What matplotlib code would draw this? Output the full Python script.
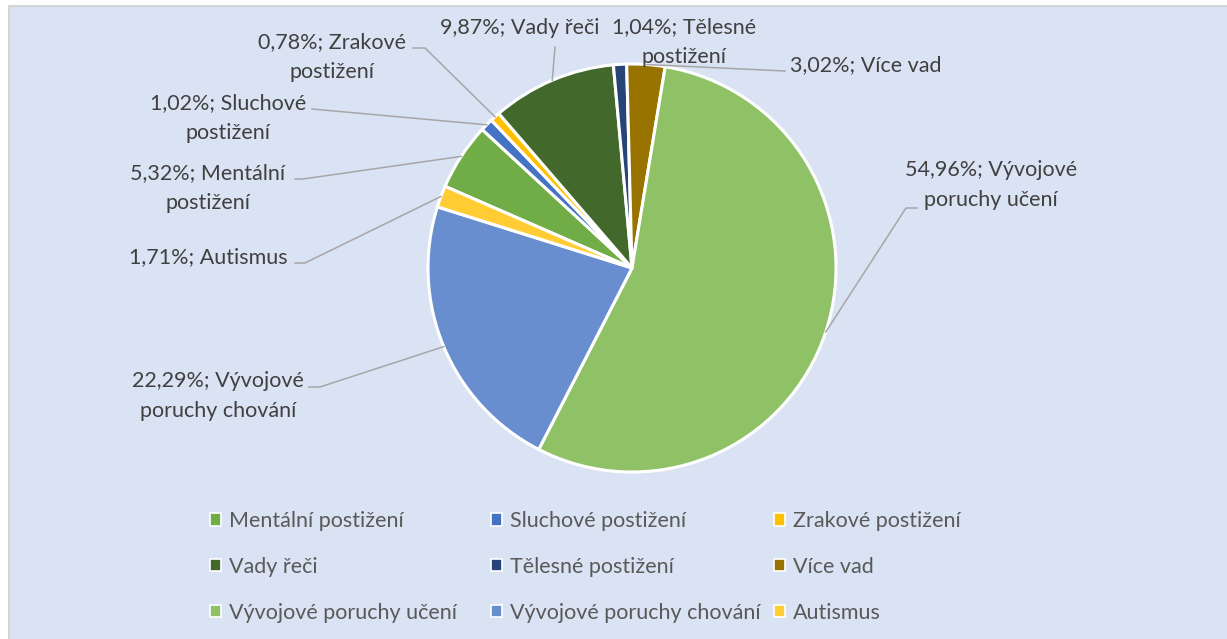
import numpy as np
import matplotlib
matplotlib.use("Agg")
import matplotlib.pyplot as plt
from matplotlib.patches import Rectangle, Patch

plt.rcParams['font.family'] = ['Lato', 'DejaVu Sans']

# data
categories = ["Mentální postižení", "Sluchové postižení", "Zrakové postižení",
              "Vady řeči", "Tělesné postižení", "Více vad",
              "Vývojové poruchy učení", "Vývojové poruchy chování", "Autismus"]
shares = [5.32, 1.02, 0.78, 9.87, 1.04, 3.02, 54.96, 22.29, 1.71]
colors = ["#70AD47", "#4472C4", "#FFC000", "#43682B", "#264478", "#997300",
          "#8FC166", "#698ED0", "#FFCD33"]
# how the data labels wrap in the original
label_names = ["Mentální\npostižení", "Sluchové\npostižení", "Zrakové\npostižení",
               "Vady řeči", "Tělesné\npostižení", "Více vad",
               "Vývojové\nporuchy učení", "Vývojové\nporuchy chování", "Autismus"]

W, H = 1227, 639
TXT = "#404040"
FS = 15.5

# label centres and leader elbows, in pixels from top-left
label_pos = [(208, 188), (228, 118), (332, 57), (520, 28), (684, 42),
             (866, 65), (991, 185), (218, 396), (208, 257)]
leaders = {0: [(295, 179), (303, 179)], 1: [(312, 109)],
           2: [(413, 48), (425, 48)], 3: [(555, 47)], 5: [(785, 71)],
           6: [(917, 208), (906, 208)], 7: [(309, 387), (320, 387)],
           8: [(295, 263), (305, 263)]}

fig = plt.figure(figsize=(W / 100, H / 100), dpi=100)
fig.patch.set_facecolor("white")
ax = fig.add_axes([0, 0, 1, 1])

ax.add_patch(Rectangle((8.5, -5), W, H - 0.5, facecolor="#DAE3F3",
                       edgecolor="#D0D0D0", linewidth=1.2, zorder=0))

cx, cy, R = 632, H - 268, 204
wedges, _ = ax.pie(shares, colors=colors, startangle=156.4, counterclock=False,
                   center=(cx, cy), radius=R,
                   wedgeprops=dict(edgecolor="white", linewidth=2.2))
ax.set_xlim(0, W)
ax.set_ylim(0, H)
ax.axis("off")

for i, (w, v) in enumerate(zip(wedges, shares)):
    txt = f"{v:.2f}".replace(".", ",") + "%; " + label_names[i]
    x, y = label_pos[i]
    ax.text(x, H - y, txt, ha="center", va="center",
            multialignment="center", fontsize=FS, color=TXT, linespacing=1.6)
    if i in leaders:
        mid = np.deg2rad((w.theta1 + w.theta2) / 2)
        ex, ey = cx + R * np.cos(mid), cy + R * np.sin(mid)
        pts = [(px, H - py) for px, py in leaders[i]] + [(ex, ey)]
        xs, ys = zip(*pts)
        ax.plot(xs, ys, color="#A6A6A6", lw=1.1, zorder=3)

# legend, row-wise like Excel, three fixed columns
col_x = [210, 491, 774]
for c in range(3):
    idx = [c, c + 3, c + 6]
    handles = [Patch(facecolor=colors[k], edgecolor="white", linewidth=1.2) for k in idx]
    fig.legend(handles, [categories[k] for k in idx], loc="center left",
               bbox_to_anchor=(col_x[c] / W, 1 - 567 / H), frameon=False,
               fontsize=FS, labelcolor="#595959", handlelength=0.5,
               handleheight=0.5, handletextpad=0.4, labelspacing=1.2,
               borderpad=0, borderaxespad=0)

fig.savefig("out.png", dpi=100)
